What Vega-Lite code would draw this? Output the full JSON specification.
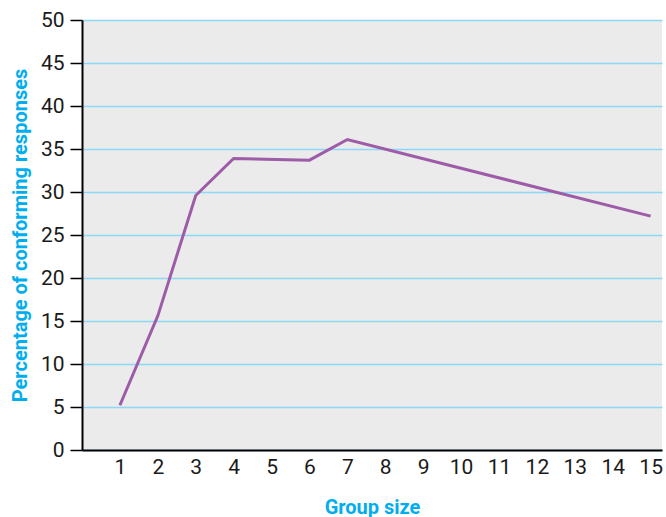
{
  "$schema": "https://vega.github.io/schema/vega-lite/v6.json",
  "autosize": "none",
  "width": 580,
  "height": 430,
  "padding": {"left": 82, "top": 20, "right": 4, "bottom": 67},
  "background": "white",
  "config": {
    "view": {"fill": "#ebebeb", "stroke": null},
    "font": "Roboto"
  },
  "data": {
    "values": [
      {"size": 1, "pct": 5.2},
      {"size": 2, "pct": 15.6},
      {"size": 3, "pct": 29.6},
      {"size": 4, "pct": 33.9},
      {"size": 6, "pct": 33.7},
      {"size": 7, "pct": 36.1},
      {"size": 15, "pct": 27.2}
    ]
  },
  "mark": {"type": "line", "color": "#9d5ba8", "strokeWidth": 3},
  "encoding": {
    "x": {
      "field": "size",
      "type": "quantitative",
      "scale": {"domain": [0, 15.3], "nice": false, "zero": false},
      "axis": {
        "values": [1,2,3,4,5,6,7,8,9,10,11,12,13,14,15],
        "grid": false,
        "ticks": false,
        "domainColor": "#000000",
        "domainWidth": 2,
        "labelFont": "Roboto",
        "labelFontSize": 21,
        "labelColor": "#1a1a1a",
        "labelPadding": 6,
        "title": "Group size",
        "titleFont": "Roboto",
        "titleFontSize": 20,
        "titleFontWeight": "bold",
        "titleColor": "#00aeef",
        "titlePadding": 20
      }
    },
    "y": {
      "field": "pct",
      "type": "quantitative",
      "scale": {"domain": [0, 50], "nice": false},
      "axis": {
        "values": [0,5,10,15,20,25,30,35,40,45,50],
        "grid": true,
        "gridColor": "#8dd8f8",
        "gridWidth": 1.5,
        "ticks": true,
        "tickSize": 12,
        "tickColor": "#000000",
        "tickWidth": 1.5,
        "domainColor": "#000000",
        "domainWidth": 2,
        "labelFont": "Roboto",
        "labelFontSize": 21,
        "labelColor": "#1a1a1a",
        "labelPadding": 6,
        "title": "Percentage of conforming responses",
        "titleFont": "Roboto",
        "titleFontSize": 20,
        "titleFontWeight": "bold",
        "titleColor": "#00aeef",
        "titlePadding": 10
      }
    }
  }
}
